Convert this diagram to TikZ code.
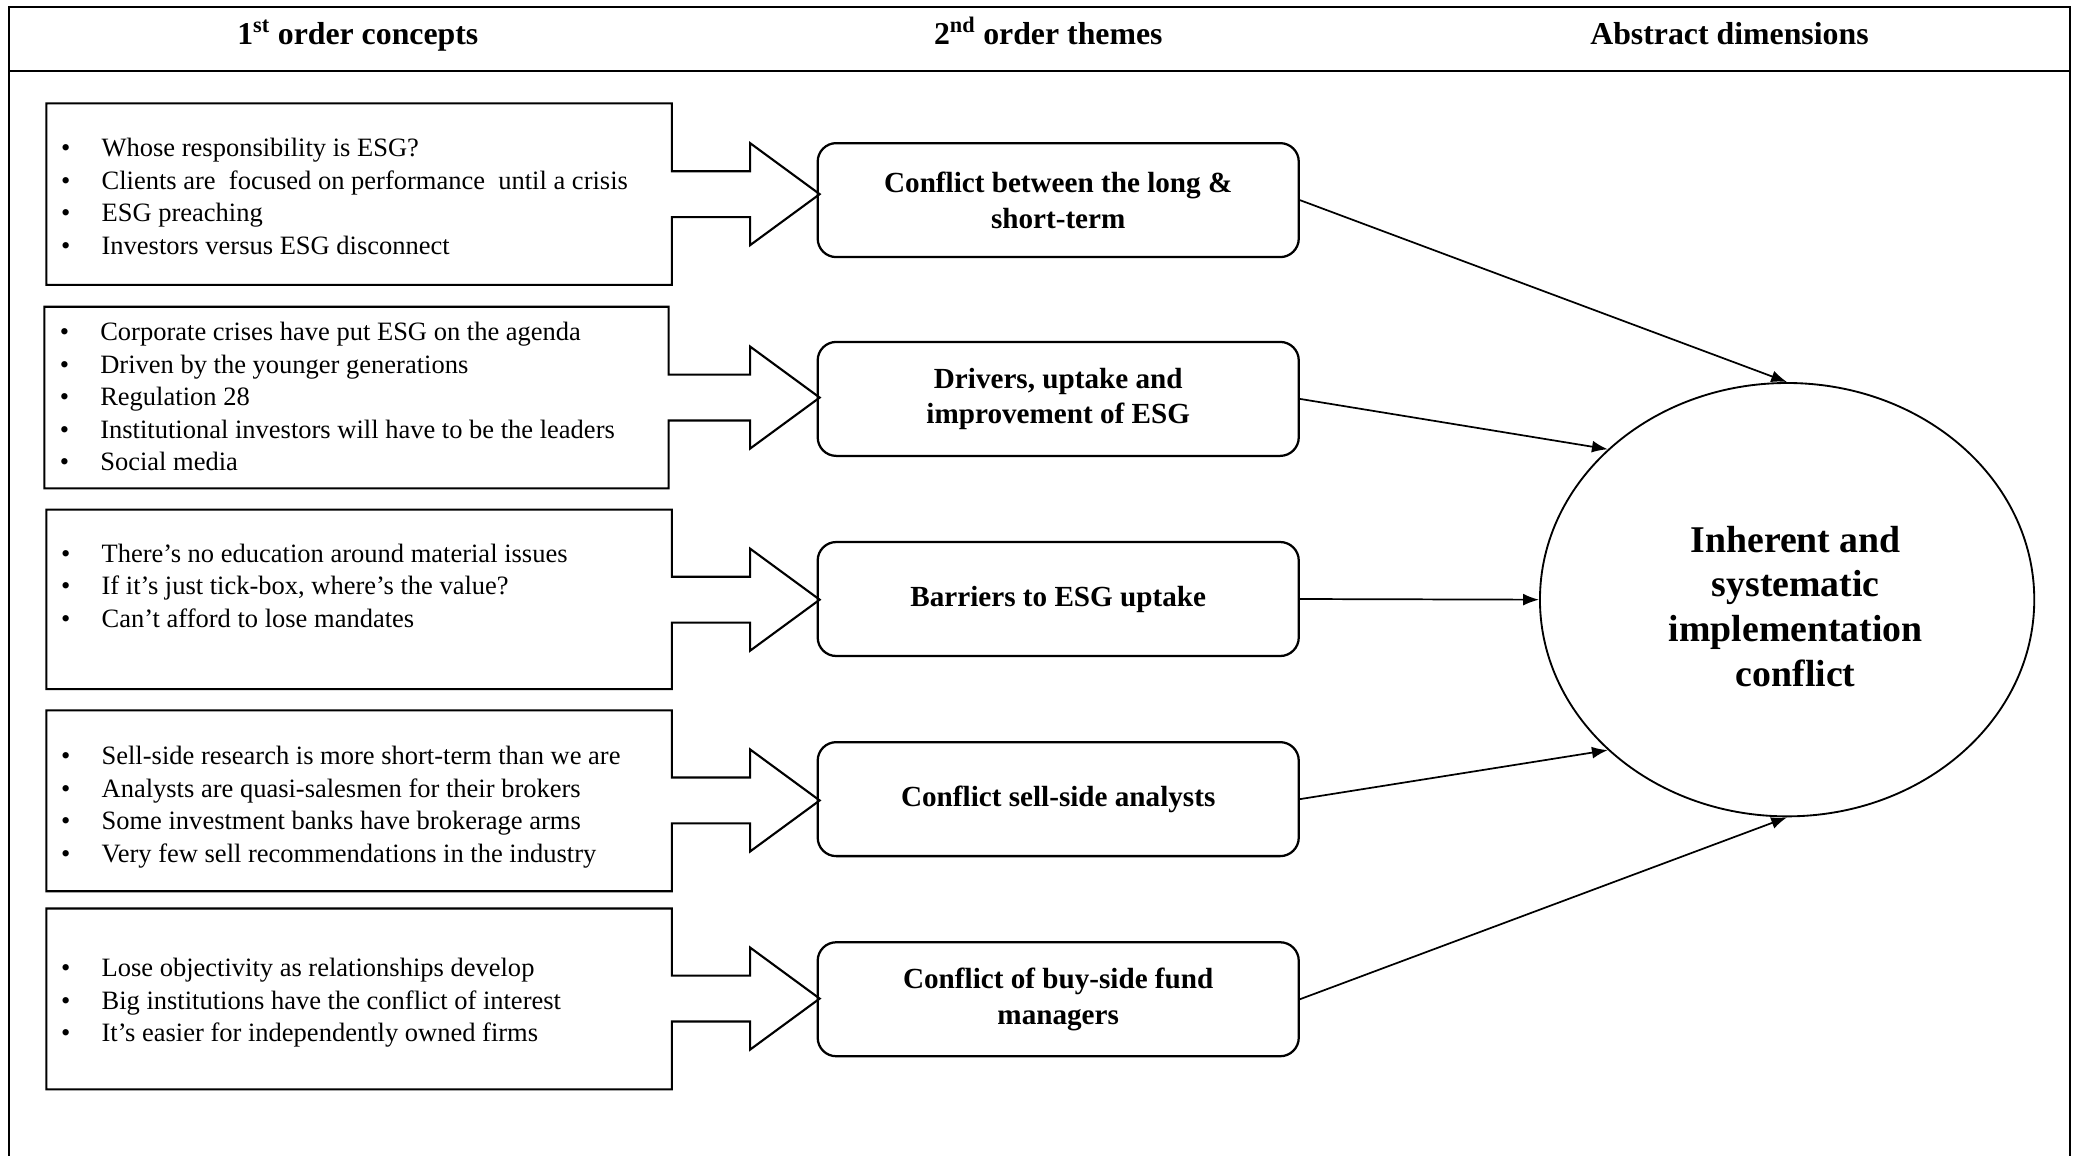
\documentclass[tikz,border=0pt]{standalone}
\usepackage{fontspec}
\setmainfont{Liberation Serif}
\usetikzlibrary{arrows.meta,shapes.geometric}
% strut that fixes the height of the first line of each list
\newcommand\topstrut{\rule{0pt}{16pt}}
% one bulleted line
\newcommand\itm[1]{\makebox[30.5pt][l]{\textbullet}#1}

\begin{document}
\begin{tikzpicture}[x=1pt,y=-1pt,
  frameline/.style={line width=1.4pt},
  outline/.style={line width=1.6pt, line join=miter},
  concept/.style={anchor=north west, inner sep=0pt, align=left,
    font=\fontsize{20}{24.5}\selectfont},
  theme/.style={draw, line width=1.7pt, rounded corners=14pt,
    minimum width=363pt, minimum height=86pt, inner sep=0pt, align=center,
    font=\bfseries\fontsize{22}{27}\selectfont},
  dimension/.style={draw, ellipse, line width=1.4pt, minimum width=373pt,
    minimum height=327pt, inner sep=0pt},
  dimtext/.style={align=center, inner sep=0pt,
    font=\bfseries\fontsize{28.5}{33.7}\selectfont},
  link/.style={-{Latex[length=12pt,width=9pt]}, line width=1.3pt},
  header/.style={anchor=base, font=\bfseries\fontsize{24}{28}\selectfont}]

\useasboundingbox (0,0) rectangle (1568,872);

% table frame and header row
\draw[frameline] (6.6,872) -- (6.6,5) -- (1562,5) -- (1562,872);
\draw[frameline] (6.6,53.3) -- (1562,53.3);
\node[header] (h1) at (270,33.5) {1\textsuperscript{st} order concepts};
\node[header] (h2) at (791,33.5) {2\textsuperscript{nd} order themes};
\node[header] (h3) at (1305,33.5) {Abstract dimensions};

% concept boxes, each merged with a block arrow
\foreach \L/\T/\R/\B/\C in {35/78/507/215/146.5, 33.5/231.5/504.5/368.5/300,
    35/384.5/507/520/452.5, 35/536/507/672.5/604, 35/685.5/507/822/753.5}{
  \draw[outline] (\L,\T) -- (\R,\T) -- (\R,\C-17.3) -- (566,\C-17.3)
    -- (566,\C-38.5) -- (618.5,\C) -- (566,\C+38.5) -- (566,\C+17.3)
    -- (\R,\C+17.3) -- (\R,\B) -- (\L,\B) -- cycle;
}

% first order concepts
\node[concept] (c1) at (46,102) {\topstrut\itm{Whose responsibility is ESG?}\\
  \itm{Clients are\ \ focused on performance\ \ until a crisis}\\
  \itm{ESG preaching}\\
  \itm{Investors versus ESG disconnect}};
\node[concept] (c2) at (45,241) {\topstrut\itm{Corporate crises have put ESG on the agenda}\\
  \itm{Driven by the younger generations}\\
  \itm{Regulation 28}\\
  \itm{Institutional investors will have to be the leaders}\\
  \itm{Social media}};
\node[concept] (c3) at (46,408) {\topstrut\itm{There’s no education around material issues}\\
  \itm{If it’s just tick-box, where’s the value?}\\
  \itm{Can’t afford to lose mandates}};
\node[concept] (c4) at (46,561) {\topstrut\itm{Sell-side research\ is more short-term than we are}\\
  \itm{Analysts are quasi-salesmen\ for their brokers}\\
  \itm{Some investment banks have brokerage\ arms}\\
  \itm{Very\ few sell recommendations in the industry}};
\node[concept] (c5) at (46,721) {\topstrut\itm{Lose objectivity as relationships develop}\\
  \itm{Big institutions have the conflict of interest}\\
  \itm{It’s easier\ for independently owned\ firms}};

% second order themes
\node[theme] (t1) at (798.5,151) {Conflict between the long \&\\short-term};
\node[theme] (t2) at (798.5,301) {Drivers, uptake and\\improvement of ESG};
\node[theme] (t3) at (798.5,452) {Barriers to ESG uptake};
\node[theme] (t4) at (798.5,603) {Conflict sell-side analysts};
\node[theme] (t5) at (798.5,754) {Conflict of buy-side fund\\managers};

% abstract dimension
\node[dimension] (e) at (1348.5,452.5) {};
\node[dimtext] (etext) at (1355,457.5) {Inherent and\\systematic\\implementation\\conflict};

% links from themes to the dimension
\draw[link] (t1.east) -- (e.north);
\draw[link] (t2.east) -- (e.140);
\draw[link] (t3.east) -- (e.west);
\draw[link] (t4.east) -- (e.220);
\draw[link] (t5.east) -- (e.south);
\end{tikzpicture}
\end{document}
